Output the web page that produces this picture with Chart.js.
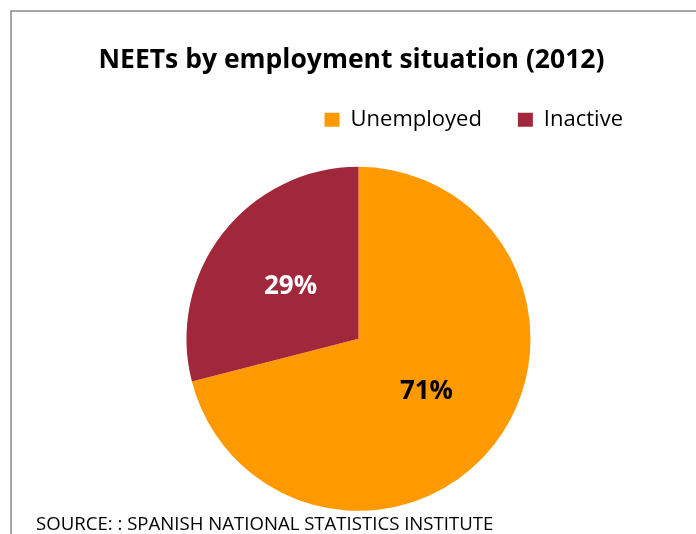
<!DOCTYPE html>
<html>
<head>
<meta charset="utf-8">
<title>NEETs by employment situation (2012)</title>
<script src="https://cdn.jsdelivr.net/npm/chart.js@4/dist/chart.umd.min.js"></script>
<style>
  html, body { margin: 0; padding: 0; background: #ffffff; overflow: hidden; }
  #wrap { width: 696px; height: 534px; position: relative; overflow: hidden; }
  #neets { display: block; }
</style>
</head>
<body>
<div id="wrap"><canvas id="neets" width="696" height="537"></canvas></div>
<script>
// NEETs in Spain, 2012, split by employment situation (percent)
const categories = ['Unemployed', 'Inactive'];
const shares = [71, 29];
const sliceColors = ['#FF9900', '#A0283A'];
const labelColors = ['#000000', '#FFFFFF'];
const chartTitle = 'NEETs by employment situation (2012)';
const sourceNote = 'SOURCE: : SPANISH NATIONAL STATISTICS INSTITUTE';

const FONT = "'Open Sans', 'DejaVu Sans', sans-serif";

// Grey frame around the chart and the source line at the bottom
const framePlugin = {
  id: 'frame',
  beforeDraw(chart) {
    const ctx = chart.ctx;
    ctx.save();
    ctx.fillStyle = '#ffffff';
    ctx.fillRect(0, 0, chart.width, chart.height);
    ctx.strokeStyle = '#898989';
    ctx.lineWidth = 1.5;
    ctx.beginPath();
    ctx.moveTo(11, chart.height + 5);
    ctx.lineTo(11, 11);
    ctx.lineTo(chart.width + 5, 11);
    ctx.stroke();
    ctx.restore();
  },
  afterDraw(chart) {
    const ctx = chart.ctx;
    ctx.save();
    ctx.fillStyle = '#000000';
    ctx.font = '18.6px ' + FONT;
    ctx.textAlign = 'left';
    ctx.textBaseline = 'alphabetic';
    ctx.fillText(sourceNote, 36, 530);
    ctx.restore();
  }
};

// Percent labels in the middle of each slice
const sliceLabels = {
  id: 'sliceLabels',
  afterDatasetsDraw(chart) {
    const ctx = chart.ctx;
    const meta = chart.getDatasetMeta(0);
    ctx.save();
    ctx.font = 'bold 26px ' + FONT;
    ctx.textAlign = 'center';
    ctx.textBaseline = 'middle';
    meta.data.forEach((arc, i) => {
      const p = arc.tooltipPosition();
      ctx.fillStyle = labelColors[i];
      ctx.fillText(shares[i] + '%', p.x, p.y);
    });
    ctx.restore();
  }
};

// Title sits a little left of the pie's centre line
const titleNudge = {
  id: 'titleNudge',
  afterLayout(chart) {
    if (chart.titleBlock) {
      chart.titleBlock.left -= 7;
      chart.titleBlock.right -= 7;
    }
  }
};

new Chart(document.getElementById('neets'), {
  type: 'pie',
  data: {
    labels: categories,
    datasets: [{
      data: shares,
      backgroundColor: sliceColors,
      borderWidth: 0,
      radius: 172
    }]
  },
  options: {
    responsive: false,
    animation: false,
    layout: { padding: { top: 0, left: 58, right: 37, bottom: 0 } },
    plugins: {
      title: {
        display: true,
        text: chartTitle,
        color: '#000000',
        font: { family: FONT, size: 26.5, weight: 'bold', lineHeight: 1.0 },
        padding: { top: 47.5, bottom: -1.3 }
      },
      legend: {
        display: true,
        position: 'top',
        align: 'end',
        labels: {
          color: '#000000',
          font: { family: FONT, size: 22 },
          boxWidth: 15,
          boxHeight: 14,
          padding: 36
        }
      },
      tooltip: { enabled: false }
    }
  },
  plugins: [framePlugin, sliceLabels, titleNudge]
});
</script>
</body>
</html>
